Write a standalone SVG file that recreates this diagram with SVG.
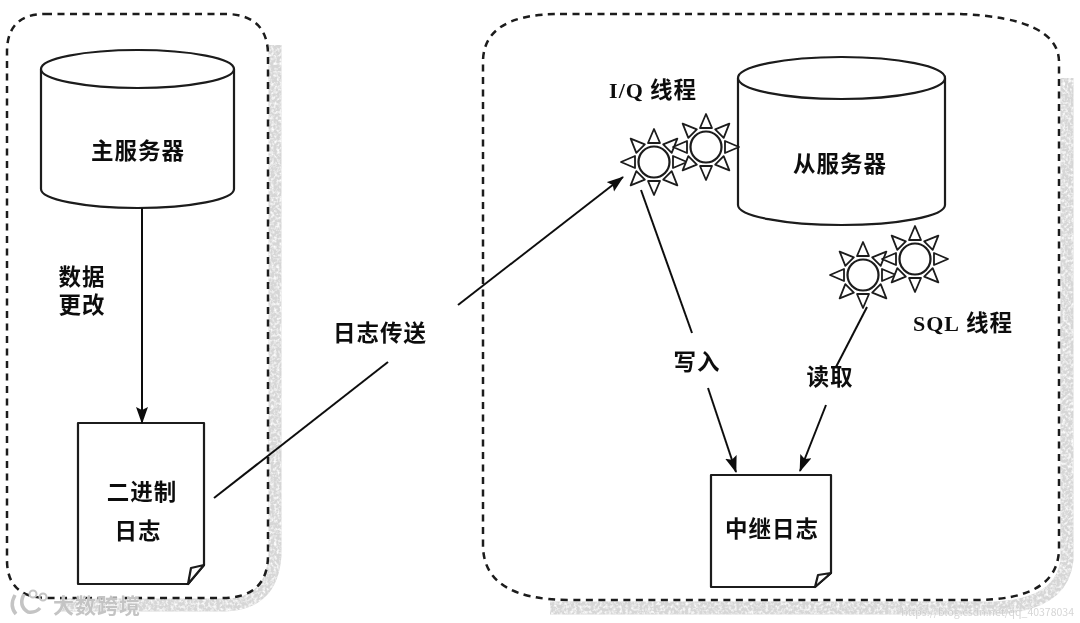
<svg xmlns="http://www.w3.org/2000/svg" width="1080" height="623" viewBox="0 0 1080 623">
<style>
.panel{fill:none;stroke:#1a1a1a;stroke-width:2.5;stroke-dasharray:7 5.500}
.shadow{fill:none;stroke:#d6d6d6;stroke-width:13;filter:url(#rough)}
.shape{fill:#fff;stroke:#1a1a1a;stroke-width:2.2;stroke-linejoin:round}
.conn{fill:none;stroke:#111;stroke-width:2}
.t{font-family:"Noto Sans CJK SC","Liberation Serif",sans-serif;font-weight:700;font-size:22.500px;fill:#111;text-anchor:middle;letter-spacing:1px}
.lat{font-family:"Liberation Serif","Noto Sans CJK SC",serif}
.wm{font-family:"Noto Sans CJK SC",sans-serif;fill:#c4c4c4;stroke:#fff;stroke-width:.6;paint-order:stroke}
</style>
<defs>
<filter id="rough" x="-5%" y="-5%" width="110%" height="110%">
<feTurbulence type="fractalNoise" baseFrequency="0.35" numOctaves="2" seed="4" result="n"/>
<feColorMatrix in="n" type="matrix" values="0 0 0 0 1 0 0 0 0 1 0 0 0 0 1 2.4 0 0 0 -1" result="w"/>
<feComposite in="w" in2="SourceGraphic" operator="in" result="m"/>
<feMerge><feMergeNode in="SourceGraphic"/><feMergeNode in="m"/></feMerge>
</filter>
<filter id="soft"><feGaussianBlur stdDeviation="0.5"/></filter>
<marker id="arrow" markerUnits="userSpaceOnUse" markerWidth="18" markerHeight="14" refX="16" refY="6" orient="auto">
<path d="M0 0L17 6L0 12L3 6Z" fill="#111"/>
</marker>
<g id="sun">
<g id="spike"><path d="M-6 -19L0 -33L6 -19Z" fill="#fff" stroke="#1a1a1a" stroke-width="1.800" stroke-linejoin="round"/></g>
<use href="#spike" transform="rotate(45)"/><use href="#spike" transform="rotate(90)"/><use href="#spike" transform="rotate(135)"/>
<use href="#spike" transform="rotate(180)"/><use href="#spike" transform="rotate(225)"/><use href="#spike" transform="rotate(270)"/><use href="#spike" transform="rotate(315)"/>
<circle r="15.500" fill="#fff" stroke="#1a1a1a" stroke-width="2.200"/>
</g>
</defs>
<rect width="1080" height="623" fill="#fff"/>
<g filter="url(#soft)">
<path class="shadow" d="M275 45V555Q272 604 225 605H60"/>
<path class="shadow" d="M1067 78V560Q1062 605 995 608H550"/>
<path class="panel" d="M45 14H228Q268 16 268 55V555Q268 598 222 598H48Q7 598 7 560V52Q7 14 45 14Z"/>
<path class="panel" d="M560 14H960Q1059 18 1059 62V548Q1059 600 975 600H570Q483 600 483 545V62Q483 14 560 14Z"/>

<g id="master">
<path class="shape" d="M41 69V189A96.500 19 0 0 0 234 189V69Z"/>
<ellipse class="shape" cx="137.500" cy="69" rx="96.500" ry="19"/>
<text class="t" x="138" y="159">主服务器</text>
</g>
<g id="binlog">
<path class="shape" d="M78 423H204V565L188 584H78Z"/>
<path class="shape" d="M188 584L191 568L204 565Z"/>
<text class="t" x="142" y="500">二进制</text>
<text class="t" x="138" y="539">日志</text>
</g>
<g id="slave">
<path class="shape" d="M738 78V205A103.500 20 0 0 0 945 205V78Z"/>
<ellipse class="shape" cx="841.500" cy="78" rx="103.500" ry="21"/>
<text class="t" x="840" y="172">从服务器</text>
</g>
<g id="io-thread">
<use href="#sun" x="654" y="162"/>
<use href="#sun" x="706" y="147"/>
<text class="t" x="653" y="98"><tspan class="lat" font-size="22">I/Q</tspan><tspan dx="6">线程</tspan></text>
</g>
<g id="sql-thread">
<use href="#sun" x="863" y="275"/>
<use href="#sun" x="915" y="259"/>
<text class="t" x="963" y="331"><tspan class="lat" font-size="22">SQL</tspan><tspan dx="6">线程</tspan></text>
</g>
<g id="relay">
<path class="shape" d="M711 475H831V573L815 587H711Z"/>
<path class="shape" d="M815 587L818 575L831 573Z"/>
<text class="t" x="772" y="537">中继日志</text>
</g>
<g id="connectors">
<path class="conn" marker-end="url(#arrow)" d="M142 208V423"/>
<path class="conn" d="M214 498L388 362"/>
<path class="conn" marker-end="url(#arrow)" d="M458 305L623 177"/>
<path class="conn" d="M641 190L692 333"/>
<path class="conn" marker-end="url(#arrow)" d="M708 388L736 472"/>
<path class="conn" d="M867 307L836 367"/>
<path class="conn" marker-end="url(#arrow)" d="M826 405L800 471"/>
</g>
<g id="labels">
<text class="t"><tspan x="82" y="285">数据</tspan><tspan x="82" y="313">更改</tspan></text>
<text class="t" x="380" y="341">日志传送</text>
<text class="t" x="697" y="370">写入</text>
<text class="t" x="830" y="385">读取</text>
</g>
<g id="watermarks">
<path d="M15 595Q9 606 16 614M24 594Q18 606 28 612Q36 613 40 608" fill="none" stroke="#c4c4c4" stroke-width="3.500"/>
<circle cx="33" cy="594" r="3.500" fill="none" stroke="#c4c4c4" stroke-width="2"/>
<circle cx="43" cy="597" r="3.500" fill="none" stroke="#c4c4c4" stroke-width="2"/>
<text class="wm" x="53" y="613" font-size="21" font-weight="700" letter-spacing="1">大数跨境</text>
<text class="wm" x="1074" y="616" font-size="10.500" text-anchor="end" opacity=".7">https://blog.csdn.net/qq_40378034</text>
</g>
</g>
</svg>
